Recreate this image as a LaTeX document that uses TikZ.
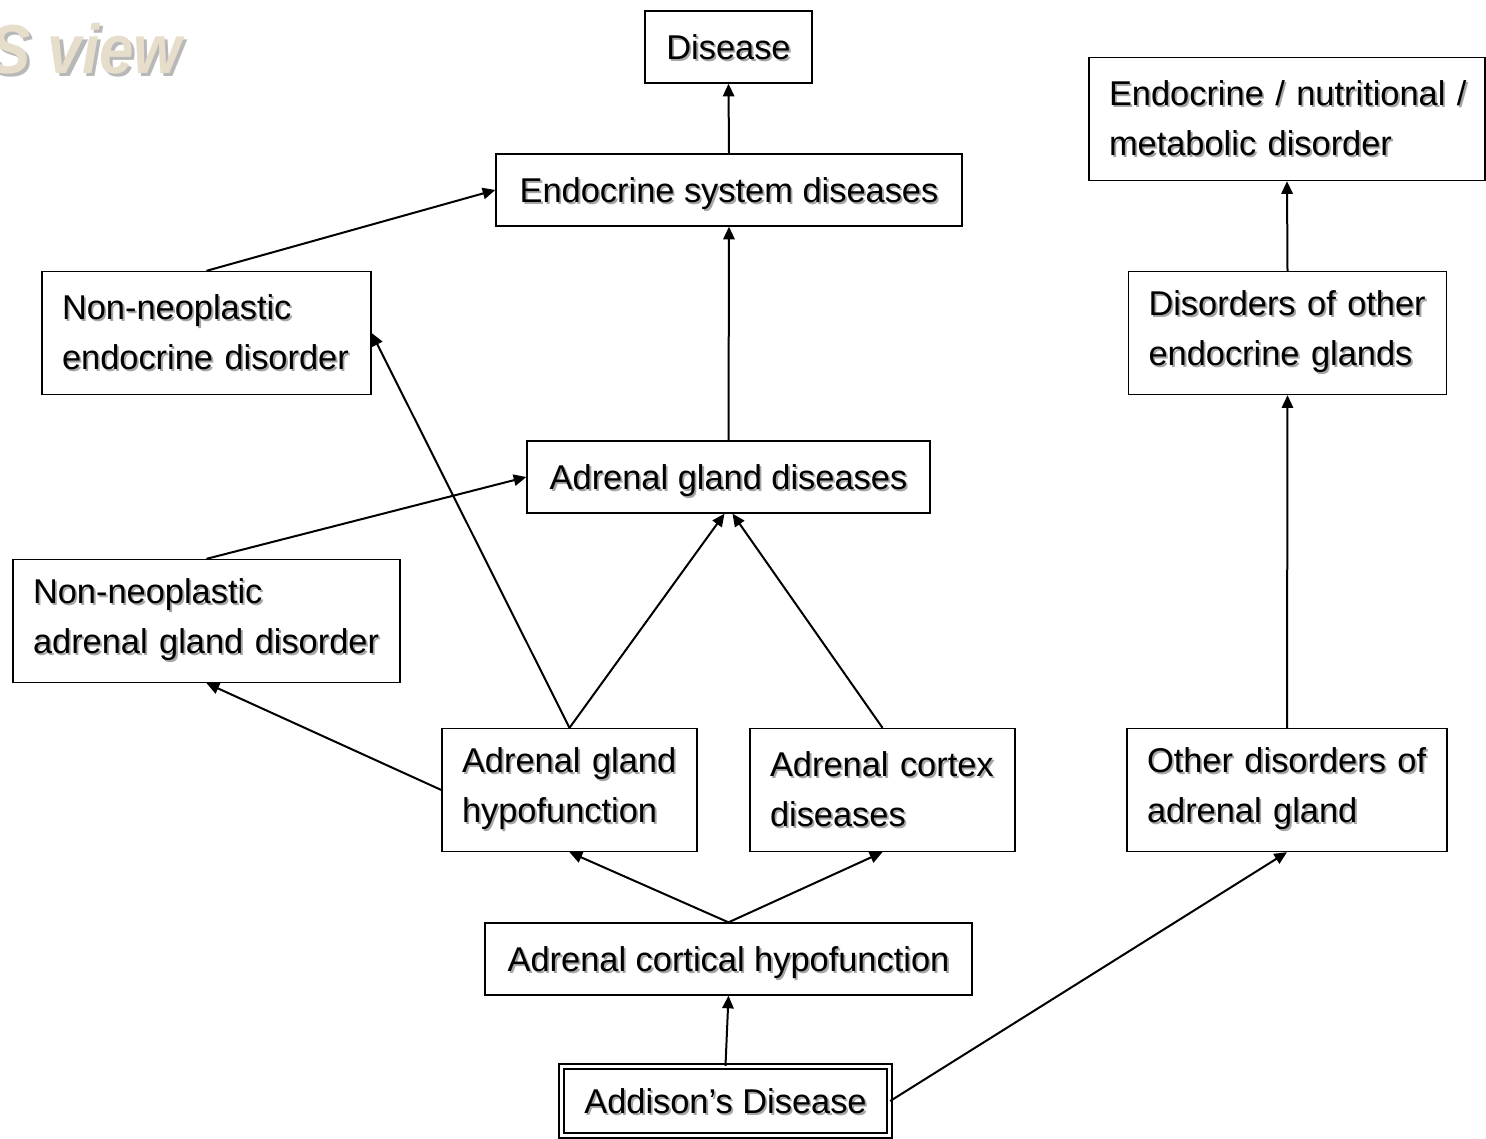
\documentclass[tikz,border=0pt]{standalone}
\usepackage{fontspec}
\setmainfont{Liberation Sans}
\newfontfamily\titlefont[FakeStretch=0.89]{Liberation Sans}
\usetikzlibrary{arrows.meta}
% one line of text with a soft grey drop shadow
\newcommand\sh[1]{\mbox{\rlap{\kern1.4pt\raisebox{-1.4pt}{\color{black!35}#1}}#1}}
\newcommand\bigsh[1]{\mbox{\rlap{\kern2.4pt\raisebox{-2.4pt}{\color{black!28}#1}}#1}}
\definecolor{titlebeige}{HTML}{E6DDCB}
\begin{document}
\begin{tikzpicture}[x=0.75pt,y=-0.75pt,
  box/.style={draw,line width=1pt,inner xsep=15pt,inner ysep=0pt,
    font=\fontsize{25.8pt}{37.5pt}\selectfont},
  onebox/.style={box,align=center,minimum height=54pt,text height=18.6pt,text depth=0pt},
  twobox/.style={box,align=left,minimum height=92.25pt},
  link/.style={line width=1.5pt,-{Triangle[length=9.5pt,width=8.5pt]}}]
\useasboundingbox[fill=white] (0,0) rectangle (1486,1139);

% title
\node[anchor=base east,inner sep=0pt,text=titlebeige,
  font=\titlefont\fontsize{52pt}{54pt}\selectfont\bfseries\itshape] (title) at (182,73)
  {\bigsh{S view}};

% single-line boxes
\node[onebox,minimum width=125.25pt] (disease) at (728.5,47) {\sh{Disease}};
\node[onebox,minimum width=349.5pt] (endo) at (729,190) {\sh{Endocrine system diseases}};
\node[onebox,minimum width=302.25pt] (agd) at (728.5,477) {\sh{Adrenal gland diseases}};
\node[onebox,minimum width=365.25pt] (ach) at (728.5,959) {\sh{Adrenal cortical hypofunction}};
\node[onebox,minimum width=246pt,minimum height=51.75pt,
  double,double distance=2.6pt,line width=1pt] (add) at (725.5,1101) {\sh{Addison’s Disease}};

% two-line boxes
\node[twobox,text width=267pt] (enm) at (1287,119)
  {\sh{Endocrine / nutritional /}\\\sh{metabolic disorder}};
\node[twobox,text width=216.75pt] (nne) at (206.5,333)
  {\sh{Non-neoplastic}\\\sh{endocrine disorder}};
\node[twobox,text width=208.5pt] (doe) at (1287.5,333)
  {\sh{Disorders of other}\\\sh{endocrine glands}};
\node[twobox,text width=260.25pt] (nna) at (206.5,621)
  {\sh{Non-neoplastic}\\\sh{adrenal gland disorder}};
\node[twobox,text width=161.25pt] (agh) at (569.5,790)
  {\sh{Adrenal gland}\\\sh{hypofunction}};
\node[twobox,text width=168.75pt] (acd) at (882.5,790)
  {\sh{Adrenal cortex}\\\sh{diseases}};
\node[twobox,text width=210pt] (oda) at (1287,790)
  {\sh{Other disorders of}\\\sh{adrenal gland}};

% is-a links
\draw[link] (endo.north) -- (disease.south);
\draw[link] (nne.north) -- (endo.west);
\draw[link] (agd.north) -- (endo.south);
\draw[link] (agh.north) -- (nne.east);
\draw[link] (agh.north) -- ([xshift=-3pt]agd.south);
\draw[link] (acd.north) -- ([xshift=3pt]agd.south);
\draw[link] (nna.north) -- (agd.west);
\draw[link] (agh.west) -- (nna.south);
\draw[link] (ach.north) -- (agh.south);
\draw[link] (ach.north) -- (acd.south);
\draw[link] (add.north) -- (ach.south);
\draw[link] (add.east) -- (oda.south);
\draw[link] (oda.north) -- (doe.south);
\draw[link] (doe.north) -- (enm.south);
\end{tikzpicture}
\end{document}
